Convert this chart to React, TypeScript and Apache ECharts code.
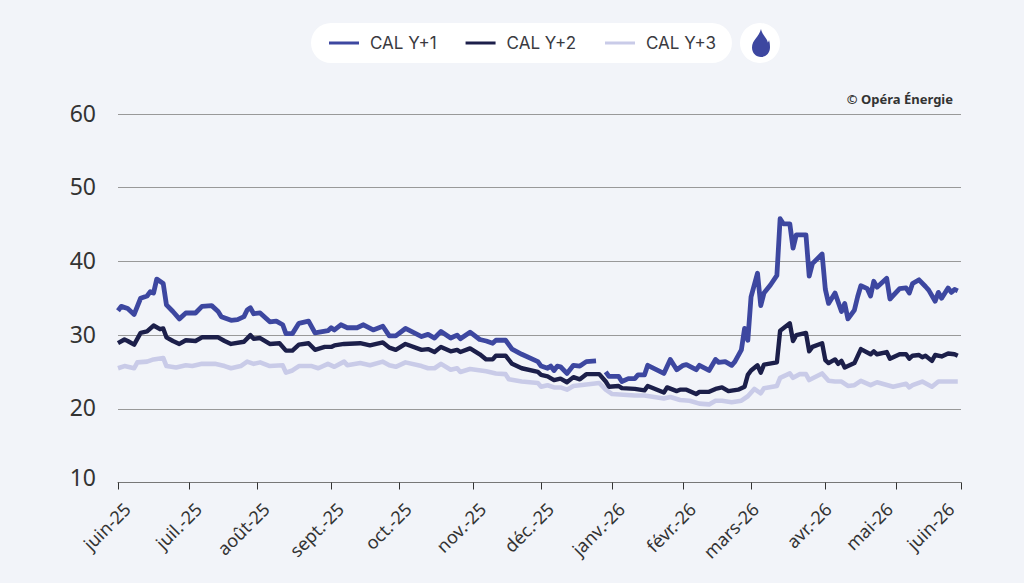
import React, { useEffect, useRef } from "react";
import * as echarts from "echarts";

const monthTicks = [0, 22, 43, 66, 87, 110, 131, 153, 175, 196, 219, 241, 261];
const labelAnchors = [0, 22, 43, 66, 87, 110, 131, 153, 175, 194.5, 217, 236, 255];
const monthLabels = ["juin-25", "juil.-25", "août-25", "sept.-25", "oct.-25", "nov.-25", "déc.-25", "janv.-26", "févr.-26", "mars-26", "avr.-26", "mai-26", "juin-26"];
const yTicks = [10, 20, 30, 40, 50, 60];

const y1Days = [0,1,3,5,7,9,10,11,12,14,15,17,19,21,24,26,29,31,32,35,37,39,40,41,42,44,47,49,51,52,54,56,59,61,65,66,67,69,71,74,76,79,82,84,86,89,94,96,98,100,103,105,106,109,112,114,116,117,120,122,125,130,131,133,134,135,136,137,139,141,143,145,148,149,151,152,155,156,158,160,161,163,164,169,171,173,175,176,179,180,183,185,186,188,190,191,193,194,195,196,198,199,200,202,204,205,206,208,209,210,213,214,215,218,219,220,222,224,225,226,228,229,230,232,233,234,235,238,239,242,244,245,246,248,250,251,253,254,255,257,258,259,260];
const y1Values = [33.3,33.9,33.6,32.8,35.0,35.3,35.9,35.7,37.6,37.0,34.1,33.2,32.2,33.0,33.0,33.9,34.0,33.2,32.5,32.0,32.1,32.5,33.4,33.7,32.9,33.0,31.8,31.9,31.4,30.2,30.2,31.6,31.9,30.3,30.6,31.0,30.7,31.4,31.0,31.0,31.4,30.7,31.2,29.9,29.9,30.9,29.8,30.1,29.6,30.5,29.6,30.0,29.5,30.4,29.4,29.2,28.9,29.3,29.3,28.1,27.4,26.4,25.8,25.5,25.8,25.2,25.8,25.7,24.8,25.9,25.8,26.4,26.5,null,25.0,24.4,24.4,23.7,24.1,24.1,24.6,24.6,25.9,24.8,26.7,25.3,25.9,26.0,25.3,25.9,25.2,26.7,26.3,26.4,25.9,26.4,28.0,30.9,29.3,35.2,38.4,34.0,35.7,36.8,38.1,45.8,45.1,45.1,41.8,43.6,43.6,38.0,39.7,41.0,36.2,34.3,35.7,33.2,34.3,32.2,33.4,35.2,36.7,36.3,35.3,37.3,36.5,37.7,34.9,36.3,36.4,35.7,37.0,37.5,36.6,36.1,34.6,35.8,35.0,36.4,35.8,36.2,36.0];

const y2Days = [0,2,3,5,7,9,11,13,14,15,17,19,21,24,26,31,33,35,39,41,42,44,47,50,52,54,56,59,61,64,66,67,70,75,78,82,84,86,89,94,96,98,100,103,105,106,109,112,114,116,117,120,122,125,130,131,133,135,137,139,141,143,145,149,151,152,155,156,160,163,164,169,170,173,174,176,179,180,183,185,187,189,192,194,195,196,198,199,200,204,205,208,209,210,213,214,215,218,219,220,222,223,224,225,228,230,233,234,235,238,239,242,244,245,246,248,249,250,252,253,255,257,259,260];
const y2Values = [28.9,29.4,29.2,28.7,30.3,30.5,31.3,30.8,30.9,29.7,29.2,28.8,29.3,29.2,29.7,29.7,29.2,28.8,29.1,30.0,29.5,29.6,28.8,28.9,27.9,27.9,28.7,28.9,28.0,28.4,28.4,28.6,28.8,28.9,28.6,29.0,28.3,28.0,28.8,28.0,28.1,27.7,28.4,27.8,28.0,27.7,28.2,27.4,26.7,26.7,27.2,27.2,26.1,25.5,25.0,24.6,24.4,23.9,24.1,23.6,24.3,24.0,24.7,24.7,23.7,23.0,23.1,22.8,22.7,22.5,23.1,22.2,22.9,22.4,22.6,22.6,22.0,22.3,22.3,22.7,22.9,22.4,22.6,23.0,24.6,25.2,25.9,24.9,26.0,26.3,30.6,31.6,29.2,30.0,30.3,27.8,28.4,28.9,26.6,26.2,26.7,26.1,26.5,25.6,26.2,28.1,27.4,27.8,27.4,27.7,26.8,27.4,27.4,26.8,27.2,27.3,27.0,27.2,26.5,27.3,27.1,27.5,27.4,27.2];

const y3Days = [0,2,5,6,9,11,14,15,18,21,23,26,30,33,35,38,40,42,44,47,51,52,54,56,60,62,65,67,70,71,75,78,82,84,86,89,94,96,98,100,103,105,106,109,114,117,120,121,125,130,131,133,135,137,139,141,145,149,151,153,160,163,166,169,171,174,177,180,183,185,187,190,193,195,197,199,200,204,205,208,209,211,213,214,218,220,222,224,226,228,230,233,235,240,244,245,246,249,252,254,260];
const y3Values = [25.5,25.8,25.5,26.3,26.4,26.7,26.9,25.8,25.6,25.9,25.8,26.1,26.1,25.8,25.5,25.8,26.4,26.1,26.3,25.8,25.9,24.9,25.2,25.8,25.8,25.5,26.1,25.7,26.4,25.9,26.2,25.9,26.4,25.9,25.7,26.3,25.8,25.5,25.5,26.1,25.3,25.5,25.0,25.4,25.1,24.8,24.7,24.0,23.7,23.5,23.0,23.2,22.9,22.9,22.6,23.1,23.3,23.5,22.6,22.0,21.8,21.8,21.6,21.4,21.6,21.2,21.1,20.7,20.6,21.1,21.1,20.9,21.1,21.7,22.7,22.1,22.8,23.1,24.2,24.8,24.2,24.7,24.7,23.9,24.8,23.8,23.7,23.7,23.1,23.2,23.8,23.2,23.6,23.0,23.4,22.9,23.2,23.7,23.0,23.7,23.7];

const flame = "M9 0 C9.5 3 11 5 13 8 C14.5 10 15.5 11.5 15.8 13.5 C16.4 13 16.8 12 17 11 C17.8 13.5 18 16 18 18.5 C18 24 14 28 9 28 C4 28 0 24 0 18.5 C0 11 7 8 9 0 Z";
echarts.graphic.registerShape("flame", (echarts.graphic as any).extendPath(flame, {}));

const pairs = (days: number[], vals: (number | null)[]) => days.map((d, i) => [d, vals[i]]);

export default function App() {
  const ref = useRef<HTMLDivElement>(null);
  useEffect(() => {
    document.body.style.margin = "0";
    const chart = echarts.init(ref.current!, undefined, { renderer: "svg" });
    const line = (name: string, color: string, data: any[], z: number, width: number) => ({
      name, type: "line", data, z, symbol: "none", showSymbol: false, connectNulls: false,
      lineStyle: { color, width, join: "round" }, itemStyle: { color },
    });
    const yFont = { fontFamily: "Noto Sans", fontSize: 23, color: "#333" };
    chart.setOption({
      animation: false,
      backgroundColor: "#f2f4f9",
      grid: { left: 118, right: 63, top: 114, bottom: 100.5 },
      legend: {
        left: 311, top: 23,
        padding: [10.5, 16, 10.5, 18], itemGap: 29, itemWidth: 30, itemHeight: 3,
        icon: "rect",
        backgroundColor: "#ffffff", borderRadius: 20,
        textStyle: { fontFamily: "Inter", fontSize: 17, color: "#3a3a3f", padding: [0, 0, 0, 6], lineHeight: 19 },
        data: ["CAL Y+1", "CAL Y+2", "CAL Y+3"],
      },
      xAxis: {
        type: "value", min: 0, max: 261,
        splitLine: { show: false },
        axisLine: { show: true, lineStyle: { color: "#777", width: 1 } },
        axisTick: { show: true, length: 7, lineStyle: { color: "#333", width: 1 }, customValues: monthTicks },
        axisLabel: {
          customValues: labelAnchors, rotate: 45, margin: 14, interval: 0, hideOverlap: false,
          verticalAlign: "top", padding: [4, 0, 0, 0],
          fontFamily: "Noto Sans", fontSize: 18, color: "#333",
          formatter: (v: number) => monthLabels[labelAnchors.indexOf(v)] ?? "",
        },
      },
      yAxis: {
        type: "value", min: 10, max: 60, interval: 10,
        axisLine: { show: false }, axisTick: { show: false },
        splitLine: { lineStyle: { color: "#999", width: 1 } },
        axisLabel: {
          margin: 22, ...yFont,
          formatter: (v: number) => (v === yTicks[0] ? `{low|${v}}` : `{std|${v}}`),
          rich: {
            low: { ...yFont, padding: [0, 0, 12, 0] },
            std: { ...yFont, padding: [0, 0, 3, 0] },
          },
        },
      },
      series: [
        line("CAL Y+1", "#3d47a0", pairs(y1Days, y1Values), 3, 4.8),
        line("CAL Y+2", "#1c1f4a", pairs(y2Days, y2Values), 4, 4.4),
        line("CAL Y+3", "#c9cbe8", pairs(y3Days, y3Values), 2, 4.6),
      ],
      graphic: [
        { type: "circle", shape: { cx: 760, cy: 43, r: 20 }, style: { fill: "#ffffff" }, silent: true },
        { type: "flame", x: 752, y: 29, style: { fill: "#3d47a0" }, silent: true },
        { type: "text", x: 953, y: 92, style: { text: "© Opéra Énergie", align: "right", fontFamily: "Noto Sans", fontWeight: "bold", fontSize: 13, fill: "#333" }, silent: true },
      ],
    });
    return () => chart.dispose();
  }, []);
  return <div ref={ref} style={{ width: 1024, height: 583 }} />;
}
